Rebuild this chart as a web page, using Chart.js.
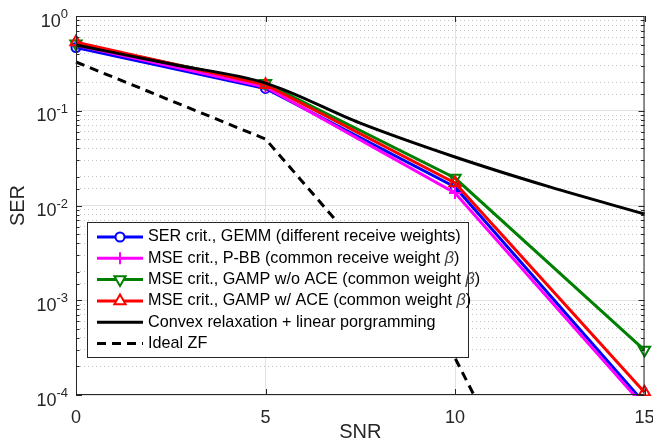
<!DOCTYPE html>
<html>
<head>
<meta charset="utf-8">
<script src="https://cdn.jsdelivr.net/npm/chart.js@4/dist/chart.umd.min.js"></script>
<style>
html,body{margin:0;padding:0;background:#fff}
#wrap{width:653px;height:443px}
</style>
</head>
<body>
<div id="wrap"><canvas id="myChart"></canvas></div>
<script>
// values
const snr = [0, 5, 10, 15]
const snrFine = [0, 2.5, 5, 7.5, 10, 12.5, 15]
const serGemm = [0.465, 0.172, 0.0157, 0.000082]
const serPbb = [0.49, 0.178, 0.01355, 0.000075]
const serGampNoAce = [0.51, 0.195, 0.0195, 0.000298]
const serGampAce = [0.53, 0.188, 0.0173, 0.000107]
const serConvex = [0.494, 0.311, 0.196, 0.074, 0.0325, 0.0157, 0.00813]
const serZf = [0.327, 0.0503, 0.000246, 0.00000003]
const xTicks = [0, 5, 10, 15]
const yTicks = [1e-4, 1e-3, 1e-2, 1e-1, 1]
const labels = [
    'SER crit., GEMM (different receive weights)',
    'MSE crit., P-BB (common receive weight β)',
    'MSE crit., GAMP w/o ACE (common weight β)',
    'MSE crit., GAMP w/ ACE (common weight β)',
    'Convex relaxation + linear porgramming',
    'Ideal ZF'
]

const FONT = "'Liberation Sans', Arial, sans-serif"
const AX = '#262626'

const pts = (xs, ys) => xs.map((x, i) => ({x: x, y: ys[i]}))

const isMajor = v => Math.abs(Math.log10(v) - Math.round(Math.log10(v))) < 1e-6

const markerSet = (color, style, radius, rotation) => ({
    borderColor: color,
    backgroundColor: color,
    pointStyle: style,
    pointRadius: radius,
    pointHoverRadius: radius,
    pointRotation: rotation || 0,
    pointBorderColor: color,
    pointBackgroundColor: 'rgba(0,0,0,0)',
    pointBorderWidth: 2,
    borderWidth: 3,
    tension: 0,
    clip: {left: 10, right: 10, top: 10, bottom: 1}
})

const datasets = [
    Object.assign({label: labels[0], data: pts(snr, serGemm), order: 6}, markerSet('#0000ff', 'circle', 4.5)),
    Object.assign({label: labels[1], data: pts(snr, serPbb), order: 5}, markerSet('#ff00ff', 'cross', 6)),
    Object.assign({label: labels[2], data: pts(snr, serGampNoAce), order: 4}, markerSet('#008000', 'triangle', 6.5, 180)),
    Object.assign({label: labels[3], data: pts(snr, serGampAce), order: 3}, markerSet('#ff0000', 'triangle', 6.5)),
    {label: labels[4], data: pts(snrFine, serConvex), order: 2, borderColor: '#000', borderWidth: 3,
        pointRadius: 0, cubicInterpolationMode: 'monotone', clip: {left: 2, right: 2, top: 2, bottom: 1}},
    {label: labels[5], data: pts(snr, serZf), order: 1, borderColor: '#000', borderWidth: 3,
        borderDash: [9, 6], pointRadius: 0, clip: {left: 2, right: 2, top: 2, bottom: 1}}
]

// box round the plot + inward ticks like matlab
const framePlugin = {
    id: 'frame',
    afterDatasetsDraw(chart){
        const {ctx, chartArea: a, scales} = chart
        ctx.save()
        ctx.strokeStyle = AX
        ctx.lineWidth = 1
        ctx.strokeRect(a.left + 0.5, a.top + 0.5, a.right - a.left - 1, a.bottom - a.top - 1)
        ctx.beginPath()
        xTicks.forEach(function(v){
            const px = Math.round(scales.x.getPixelForValue(v)) + 0.5
            ctx.moveTo(px, a.bottom); ctx.lineTo(px, a.bottom - 6)
            ctx.moveTo(px, a.top); ctx.lineTo(px, a.top + 6)
        })
        scales.y.ticks.forEach(function(t){
            const py = Math.round(scales.y.getPixelForValue(t.value)) + 0.5
            const len = isMajor(t.value) ? 6 : 3.5
            ctx.moveTo(a.left, py); ctx.lineTo(a.left + len, py)
            ctx.moveTo(a.right, py); ctx.lineTo(a.right - len, py)
        })
        ctx.stroke()
        ctx.restore()
    }
}

// y labels as 10 with a raised exponent
const yLabelPlugin = {
    id: 'yLabels',
    afterDraw(chart){
        const {ctx, scales} = chart
        ctx.save()
        ctx.fillStyle = AX
        ctx.textBaseline = 'alphabetic'
        yTicks.forEach(function(v){
            const py = scales.y.getPixelForValue(v)
            const exp = String(Math.round(Math.log10(v)))
            ctx.font = '13px ' + FONT
            const ew = ctx.measureText(exp).width
            ctx.textAlign = 'left'
            ctx.fillText(exp, 68 - ew, py + 2)
            ctx.font = '18px ' + FONT
            ctx.textAlign = 'right'
            ctx.fillText('10', 68 - ew, py + 10.5)
        })
        ctx.restore()
    }
}

const legendPlugin = {
    id: 'boxLegend',
    afterDraw(chart){
        const {ctx} = chart
        const bx = 87, by = 222, bw = 381, bh = 135
        ctx.save()
        ctx.fillStyle = '#fff'
        ctx.fillRect(bx, by, bw, bh)
        ctx.strokeStyle = AX
        ctx.lineWidth = 1
        ctx.strokeRect(bx + 0.5, by + 0.5, bw, bh)
        chart.data.datasets.forEach(function(ds, i){
            const y = 237 + i * 21.3
            ctx.save()
            ctx.strokeStyle = ds.borderColor
            ctx.lineWidth = ds.borderWidth
            ctx.setLineDash(ds.borderDash || [])
            ctx.beginPath()
            ctx.moveTo(97, y); ctx.lineTo(143, y)
            ctx.stroke()
            ctx.setLineDash([])
            if (ds.pointRadius > 0){
                ctx.strokeStyle = ds.pointBorderColor
                ctx.fillStyle = '#fff'
                ctx.lineWidth = ds.pointBorderWidth
                Chart.helpers.drawPoint(ctx, {pointStyle: ds.pointStyle, rotation: ds.pointRotation,
                    radius: ds.pointRadius, borderWidth: ds.pointBorderWidth}, 120, y)
            }
            ctx.restore()
            // text, beta in italics
            ctx.fillStyle = '#000'
            ctx.textBaseline = 'middle'
            ctx.textAlign = 'left'
            let x = 148
            const parts = ds.label.split('β')
            parts.forEach(function(p, k){
                ctx.font = '16.2px ' + FONT
                ctx.fillText(p, x, y)
                x += ctx.measureText(p).width
                if (k < parts.length - 1){
                    ctx.font = 'italic 16.2px ' + FONT
                    ctx.fillStyle = '#444'
                    ctx.fillText('β', x, y)
                    x += ctx.measureText('β').width
                    ctx.fillStyle = '#000'
                }
            })
        })
        ctx.restore()
    }
}

const ctx = document.getElementById('myChart').getContext('2d')

const config = {
    type: 'line',
    data: {datasets: datasets},
    options: {
        responsive: true,
        maintainAspectRatio: false,
        animation: false,
        events: [],
        layout: {padding: {top: 16, right: 8, left: 0, bottom: 0}},
        plugins: {
            legend: {display: false},
            tooltip: {enabled: false}
        },
        scales: {
            x: {
                type: 'linear',
                min: 0,
                max: 15,
                afterBuildTicks(scale){
                    scale.ticks = xTicks.map(v => ({value: v}))
                },
                afterFit(scale){
                    scale.height = 48
                    scale.paddingLeft = 0
                    scale.paddingRight = 0
                },
                ticks: {
                    color: AX,
                    padding: 12,
                    maxRotation: 0,
                    font: {family: FONT, size: 18}
                },
                grid: {
                    color: '#e2e2e2',
                    lineWidth: 1,
                    drawTicks: false
                },
                border: {display: false},
                title: {
                    display: true,
                    text: 'SNR',
                    color: AX,
                    font: {family: FONT, size: 20},
                    padding: {top: 0, bottom: -1}
                }
            },
            y: {
                type: 'logarithmic',
                min: 1e-4,
                max: 1,
                afterFit(scale){
                    scale.width = 76
                    scale.paddingTop = 0
                    scale.paddingBottom = 0
                },
                ticks: {
                    display: false,
                    autoSkip: false
                },
                grid: {
                    color: function(c){
                        return c.tick && isMajor(c.tick.value) ? '#e2e2e2' : '#c4c4c4'
                    },
                    lineWidth: 1,
                    drawTicks: false
                },
                border: {
                    display: false,
                    dash: function(c){
                        return c.tick && isMajor(c.tick.value) ? [] : [1, 3]
                    }
                },
                title: {
                    display: true,
                    text: 'SER',
                    color: AX,
                    font: {family: FONT, size: 20},
                    padding: {top: 6, bottom: 0}
                }
            }
        }
    },
    plugins: [framePlugin, yLabelPlugin, legendPlugin]
}

const myChart = new Chart(ctx, config)
</script>
</body>
</html>
